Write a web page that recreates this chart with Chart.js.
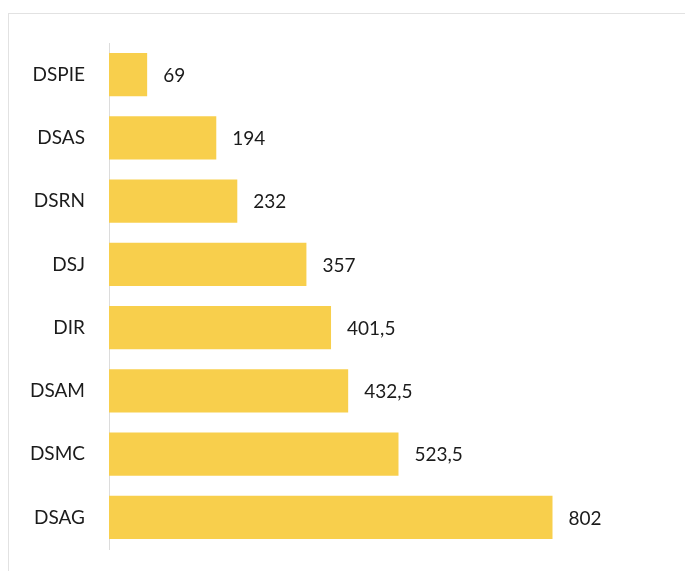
<!DOCTYPE html>
<html>
<head>
<meta charset="utf-8">
<script src="https://cdn.jsdelivr.net/npm/chart.js@4"></script>
<style>
  html, body { margin: 0; padding: 0; background: #fff; overflow: hidden; }
  #frame {
    position: absolute;
    left: 8px;
    top: 13px;
    width: 676px;
    height: 557px;
    border-left: 1px solid #e2e2e2;
    border-top: 1px solid #e2e2e2;
  }
  #chart-1 { position: absolute; left: 0; top: 0; }
</style>
</head>
<body>
<div id="frame"></div>
<canvas id="chart-1" width="685" height="571"></canvas>
<script>
// categories and values (top to bottom)
var categories = ["DSPIE", "DSAS", "DSRN", "DSJ", "DIR", "DSAM", "DSMC", "DSAG"];
var values = [69, 194, 232, 357, 401.5, 432.5, 523.5, 802];

// writes the value next to the end of each bar, comma as decimal sign
var valueLabels = {
  id: "valueLabels",
  afterDatasetsDraw: function (chart) {
    var ctx = chart.ctx;
    var meta = chart.getDatasetMeta(0);
    ctx.save();
    ctx.font = "19px Lato";
    ctx.fillStyle = "#1b1b1b";
    ctx.textAlign = "left";
    ctx.textBaseline = "middle";
    meta.data.forEach(function (bar, i) {
      var txt = String(values[i]).replace(".", ",");
      ctx.fillText(txt, bar.x + 16, bar.y + 1);
    });
    ctx.restore();
  },
};

var chartOne = document.getElementById("chart-1").getContext("2d");
var myBarChart = new Chart(chartOne, {
  type: "bar",
  data: {
    labels: categories,
    datasets: [
      {
        data: values,
        backgroundColor: "#F8CF4C",
        borderWidth: 0,
        categoryPercentage: 0.68,
        barPercentage: 1.0,
      },
    ],
  },
  options: {
    indexAxis: "y",
    responsive: false,
    animation: false,
    layout: {
      padding: { top: 43, bottom: 22, left: 0, right: 23 },
    },
    plugins: {
      legend: { display: false },
      tooltip: { enabled: false },
    },
    scales: {
      x: {
        min: 0,
        max: 1000,
        display: false,
      },
      y: {
        // fixed label column so the axis sits at x = 109,
        // and no extra room reserved above/below for the labels
        afterFit: function (scale) {
          scale.width = 109;
          scale.paddingTop = 0;
          scale.paddingBottom = 0;
        },
        grid: { display: false, drawTicks: false },
        border: { display: true, color: "#dcdcdc", width: 1 },
        ticks: {
          padding: 24,
          color: "#1b1b1b",
          font: { family: "Lato", size: 19 },
        },
      },
    },
  },
  plugins: [valueLabels],
});
</script>
</body>
</html>
